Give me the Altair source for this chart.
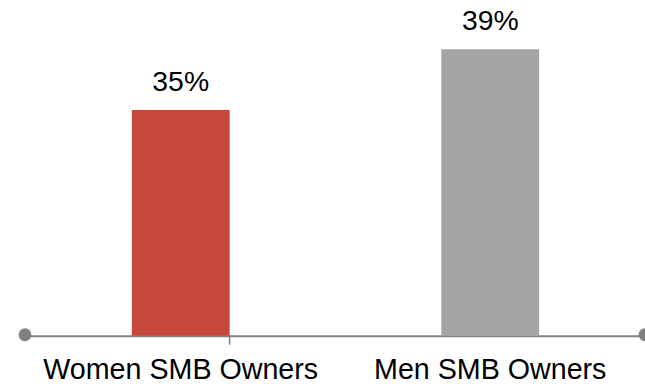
import altair as alt
import pandas as pd

categories = ["Women SMB Owners", "Men SMB Owners"]
values = [35, 39]
value_labels = ["35%", "39%"]
bar_colors = ["#C5483A", "#A5A5A5"]

df = pd.DataFrame({"category": categories, "value": values, "label": value_labels})

AXIS_GRAY = "#808080"
FONT = "Liberation Sans"

x_enc = alt.X(
    "category:N",
    sort=categories,
    scale=alt.Scale(paddingInner=0.684, paddingOuter=0.342),
    axis=alt.Axis(
        title=None,
        labelAngle=0,
        labelFontSize=28.7,
        labelFont=FONT,
        labelColor="#000000",
        labelBaseline="alphabetic",
        labelPadding=43,
        labelLimit=0,
        labelOverlap=False,
        ticks=False,
        domainColor=AXIS_GRAY,
        domainWidth=2,
        grid=False,
    ),
)
y_scale = alt.Scale(domain=[20.18, 42.21], zero=False, nice=False, clamp=True)

bars = alt.Chart(df).mark_bar().encode(
    x=x_enc,
    y=alt.Y("value:Q", scale=y_scale, axis=None),
    color=alt.Color("category:N", scale=alt.Scale(domain=categories, range=bar_colors), legend=None),
)

text = alt.Chart(df).mark_text(
    baseline="alphabetic", dy=-19, fontSize=28.4, font=FONT, color="#000000"
).encode(
    x=alt.X("category:N", sort=categories),
    y=alt.Y("value:Q", scale=y_scale),
    text="label:N",
)

tick = alt.Chart(df).transform_filter(
    alt.datum.category == categories[0]
).mark_rule(color=AXIS_GRAY, strokeWidth=1.5).encode(
    x=alt.X("category:N", sort=categories, bandPosition=1),
    y=alt.value(336),
    y2=alt.value(345),
)

left_dot = alt.Chart(df).transform_filter(
    alt.datum.category == categories[0]
).mark_circle(color=AXIS_GRAY, opacity=1, size=165).encode(
    x=alt.value(-1), y=alt.value(335)
)
right_dot = alt.Chart(df).transform_filter(
    alt.datum.category == categories[0]
).mark_circle(color=AXIS_GRAY, opacity=1, size=165).encode(
    x=alt.value(620), y=alt.value(335)
)

chart = alt.layer(bars, text, tick, left_dot, right_dot).properties(
    width=620,
    height=336,
    padding={"left": 26, "top": 0, "right": 0, "bottom": 48},
    autosize=alt.AutoSizeParams(type="none"),
    background="white",
).configure_view(stroke=None)

chart.save("out.html", embed_options={"renderer": "svg", "actions": False})
